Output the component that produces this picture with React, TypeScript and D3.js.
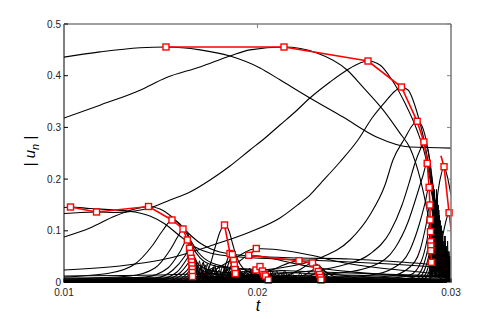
import React, { useEffect, useRef } from 'react';
import * as d3 from 'd3';

type P = [number, number];

const xTicks = [0.01, 0.02, 0.03];
const xTickLabels = ['0.01', '0.02', '0.03'];
const yTicks = [0, 0.1, 0.2, 0.3, 0.4, 0.5];
const yTickLabels = ['0', '0.1', '0.2', '0.3', '0.4', '0.5'];

// ---- mode amplitudes (black curves) : [t, |u_n|]
const modeA: P[] = [[0.01,0.436],[0.01186,0.446],[0.01393,0.454],[0.01527,0.4555],[0.01703,0.450],[0.01858,0.438],[0.02013,0.415],[0.02116,0.392],[0.02271,0.357],[0.02442,0.320],[0.02618,0.281],[0.02788,0.262],[0.03,0.260]];
const modeB: P[] = [[0.01,0.318],[0.01186,0.343],[0.01393,0.372],[0.01527,0.396],[0.01703,0.417],[0.01858,0.438],[0.01961,0.450],[0.02137,0.4555],[0.02307,0.444],[0.02463,0.411],[0.02545,0.378],[0.02649,0.334],[0.02736,0.289],[0.02788,0.260],[0.0284,0.202],[0.02881,0.131],[0.02912,0.0629],[0.02943,0.028],[0.03,0.016]];
const modeC: P[] = [[0.01,0.1335],[0.01083,0.1354],[0.01168,0.1364],[0.01264,0.1354],[0.01367,0.1383],[0.01444,0.1441],[0.01548,0.1596],[0.01651,0.1750],[0.01755,0.1983],[0.01858,0.2253],[0.01961,0.2563],[0.02039,0.2795],[0.02116,0.3046],[0.02194,0.3298],[0.02271,0.3569],[0.02375,0.3878],[0.02463,0.4110],[0.0253,0.4246],[0.02571,0.4284],[0.02633,0.4207],[0.02695,0.3917],[0.02762,0.3472],[0.02824,0.2950],[0.02866,0.2466],[0.02902,0.1789],[0.02933,0.1112],[0.02964,0.0629],[0.03,0.0474]];
const modeD: P[] = [[0.01,0.0880],[0.01134,0.1054],[0.01264,0.1286],[0.01367,0.1422],[0.01437,0.1470],[0.01496,0.1422],[0.01558,0.1267],[0.01625,0.1015],[0.01703,0.0764],[0.01806,0.0590],[0.01961,0.0513],[0.0222,0.0474],[0.02478,0.0455],[0.02736,0.0397],[0.03,0.0319]];
const modeE: P[] = [[0.01,0.0242],[0.01289,0.0319],[0.01548,0.0474],[0.0177,0.0725],[0.01961,0.0977],[0.02116,0.1248],[0.0222,0.1538],[0.02271,0.1692],[0.02323,0.1905],[0.02426,0.2331],[0.02519,0.2756],[0.02592,0.3182],[0.02659,0.3491],[0.02711,0.3704],[0.02742,0.3781],[0.02778,0.3724],[0.02824,0.3298],[0.02866,0.2659],[0.02902,0.1886],[0.02933,0.1170],[0.02964,0.0629],[0.03,0.0397]];
const modeF: P[] = [[0.01,0.0126],[0.01703,0.0164],[0.02116,0.0280],[0.02323,0.0474],[0.02478,0.0822],[0.02581,0.1306],[0.02659,0.1886],[0.027,0.2369],[0.02762,0.2795],[0.02798,0.3027],[0.02824,0.3124],[0.0285,0.3027],[0.02881,0.2563],[0.02912,0.1692],[0.02943,0.0861],[0.03,0.0339]];
const modeG: P[] = [[0.01,0.0087],[0.01806,0.0126],[0.0222,0.0203],[0.02426,0.0319],[0.02581,0.0551],[0.02685,0.0977],[0.02747,0.1499],[0.02788,0.1983],[0.02814,0.2311],[0.0284,0.2563],[0.0286,0.2718],[0.02881,0.2563],[0.02907,0.1886],[0.02938,0.1015],[0.02969,0.0474],[0.03,0.0280]];
const modeH: P[] = [[0.01,0.0068],[0.01961,0.0106],[0.02426,0.0184],[0.02607,0.0338],[0.02711,0.0667],[0.02778,0.1170],[0.02824,0.1692],[0.02856,0.2079],[0.02876,0.2311],[0.02891,0.2137],[0.02912,0.1499],[0.02943,0.0725],[0.03,0.0203]];
const modeI: P[] = [[0.01,0.0048],[0.0222,0.0087],[0.02581,0.0145],[0.02711,0.0300],[0.02788,0.0629],[0.02835,0.1112],[0.02866,0.1538],[0.02886,0.1847],[0.02902,0.1692],[0.02923,0.1112],[0.02954,0.0474],[0.03,0.0126]];
const modeJ: P[] = [[0.01,0.0039],[0.02375,0.0068],[0.02685,0.0126],[0.02788,0.0300],[0.0284,0.0629],[0.02871,0.1112],[0.02891,0.1499],[0.02907,0.1306],[0.02928,0.0822],[0.02959,0.0338],[0.03,0.0087]];
const modeK: P[] = [[0.01,0.0029],[0.02633,0.0068],[0.02788,0.0145],[0.02845,0.0397],[0.02876,0.0822],[0.02893,0.1209],[0.02907,0.1015],[0.02928,0.0590],[0.02959,0.0242],[0.03,0.0068]];
const modeL: P[] = [[0.01,0.0019],[0.02685,0.0048],[0.02814,0.0106],[0.0286,0.0358],[0.02881,0.0667],[0.02894,0.0977],[0.02907,0.0783],[0.02933,0.0397],[0.02969,0.0145],[0.03,0.0048]];
const modeM: P[] = [[0.01,0.0015],[0.02736,0.0039],[0.0283,0.0087],[0.02871,0.0319],[0.02886,0.0532],[0.02897,0.0783],[0.02912,0.0590],[0.02933,0.0280],[0.03,0.0039]];
const modeN: P[] = [[0.01,0.001],[0.02762,0.0029],[0.0285,0.0087],[0.02881,0.0280],[0.02897,0.0609],[0.02912,0.0397],[0.02943,0.0164],[0.03,0.0029]];
const modeO: P[] = [[0.01,0.0008],[0.02788,0.0019],[0.0286,0.0068],[0.02886,0.0203],[0.02898,0.0397],[0.02912,0.0242],[0.02943,0.0087],[0.03,0.002]];
const modeX1: P[] = [[0.02891,0.0822],[0.02923,0.1499],[0.02943,0.1983],[0.02964,0.2240],[0.02979,0.2079],[0.03,0.1692]];
const modeX2: P[] = [[0.02923,0.0338],[0.02948,0.0725],[0.02969,0.1112],[0.0299,0.1350],[0.03,0.1325]];
const modeQ: P[] = [[0.01,0.1450],[0.01034,0.146],[0.01134,0.1432],[0.01264,0.1402],[0.01367,0.1364],[0.01444,0.1286],[0.01522,0.1132],[0.01599,0.0899],[0.01677,0.0687],[0.01755,0.0571],[0.0191,0.0493],[0.02116,0.0455],[0.02375,0.0416],[0.02685,0.0358],[0.03,0.0280]];
const modeP1: P[] = [[0.01,0.0106],[0.01238,0.0184],[0.01367,0.0358],[0.01455,0.0706],[0.01512,0.1015],[0.01558,0.1209],[0.01599,0.1132],[0.01641,0.0899],[0.01692,0.0590],[0.01765,0.0377],[0.01884,0.0280],[0.02065,0.0242],[0.02323,0.0203],[0.02633,0.0164],[0.03,0.0126]];
const modeP2: P[] = [[0.01,0.0068],[0.01341,0.0126],[0.0147,0.0280],[0.01548,0.0629],[0.0159,0.0899],[0.01615,0.1035],[0.01636,0.0977],[0.01661,0.0725],[0.01703,0.0474],[0.0178,0.0319],[0.01961,0.0242],[0.02323,0.0164],[0.03,0.0106]];
const modeP3: P[] = [[0.01,0.0048],[0.01419,0.0106],[0.01537,0.0280],[0.01599,0.0590],[0.01637,0.0822],[0.01651,0.0745],[0.01672,0.0513],[0.01703,0.0319],[0.01806,0.0203],[0.0222,0.0126],[0.03,0.0068]];
const modeP4: P[] = [[0.01,0.0039],[0.0147,0.0087],[0.01563,0.0242],[0.01625,0.0513],[0.01649,0.0662],[0.01661,0.0590],[0.01682,0.0377],[0.01729,0.0203],[0.0191,0.0126],[0.03,0.0048]];
const modeP5: P[] = [[0.01,0.003],[0.01496,0.0068],[0.01584,0.0203],[0.01635,0.0455],[0.01654,0.0565],[0.01667,0.0474],[0.01687,0.0300],[0.01739,0.0164],[0.03,0.004]];
const modeP6: P[] = [[0.01,0.0025],[0.0152,0.006],[0.01599,0.0184],[0.01642,0.0377],[0.01658,0.0468],[0.0167,0.0377],[0.01692,0.0222],[0.0175,0.012],[0.03,0.003]];
const modeP7: P[] = [[0.0155,0.004],[0.0161,0.015],[0.01648,0.030],[0.0166,0.0397],[0.01672,0.031],[0.01697,0.018],[0.0176,0.009],[0.03,0.002]];
const modeP8: P[] = [[0.0157,0.003],[0.0162,0.012],[0.01652,0.025],[0.01662,0.0329],[0.01675,0.025],[0.017,0.014],[0.0177,0.007],[0.03,0.002]];
const modeP9: P[] = [[0.0159,0.003],[0.01628,0.010],[0.01655,0.019],[0.01663,0.0261],[0.01677,0.019],[0.01705,0.010],[0.0178,0.005],[0.03,0.0015]];
const modeP10: P[] = [[0.016,0.002],[0.01635,0.007],[0.01656,0.014],[0.01663,0.0193],[0.01678,0.013],[0.0171,0.007],[0.03,0.001]];
const modeP11: P[] = [[0.0161,0.002],[0.0164,0.005],[0.01658,0.009],[0.01664,0.0116],[0.0168,0.008],[0.0171,0.004],[0.03,0.001]];
const modeR1: P[] = [[0.01677,0.0048],[0.01729,0.0145],[0.01755,0.0338],[0.0178,0.0667],[0.01806,0.0977],[0.01829,0.1112],[0.01853,0.0996],[0.01873,0.0725],[0.01894,0.0474],[0.01925,0.0280],[0.01987,0.0164],[0.02168,0.0106],[0.03,0.0048]];
const modeR2: P[] = [[0.0178,0.004],[0.0182,0.018],[0.01845,0.045],[0.01858,0.0561],[0.0187,0.048],[0.0189,0.028],[0.0193,0.012],[0.03,0.003]];
const modeR3: P[] = [[0.0179,0.004],[0.0183,0.016],[0.01857,0.044],[0.0187,0.0542],[0.01882,0.045],[0.019,0.026],[0.0194,0.011],[0.03,0.003]];
const modeR4: P[] = [[0.018,0.003],[0.0184,0.012],[0.01865,0.034],[0.01876,0.0426],[0.01888,0.034],[0.01905,0.02],[0.0195,0.008],[0.03,0.002]];
const modeR5: P[] = [[0.0181,0.003],[0.0185,0.01],[0.0187,0.026],[0.0188,0.0338],[0.01892,0.026],[0.0191,0.015],[0.0196,0.006],[0.03,0.002]];
const modeR6: P[] = [[0.0182,0.002],[0.01855,0.008],[0.01873,0.019],[0.01883,0.0251],[0.01895,0.018],[0.01915,0.01],[0.03,0.001]];
const modeR7: P[] = [[0.0183,0.002],[0.0186,0.006],[0.01876,0.013],[0.01885,0.0174],[0.01898,0.012],[0.0192,0.006],[0.03,0.001]];
const modeS1: P[] = [[0.0178,0.0242],[0.01884,0.0474],[0.01994,0.0658],[0.02116,0.0629],[0.02271,0.0532],[0.02426,0.0397],[0.02633,0.0280],[0.0284,0.0203],[0.03,0.0126]];
const modeS2: P[] = [[0.0183,0.0203],[0.0191,0.042],[0.01955,0.0526],[0.0203,0.05],[0.0215,0.04],[0.0228,0.03],[0.025,0.02],[0.03,0.01]];
const modeS3: P[] = [[0.0198,0.01],[0.0208,0.025],[0.0215,0.036],[0.02214,0.0422],[0.0226,0.038],[0.0232,0.026],[0.024,0.015],[0.03,0.006]];
const modeS4: P[] = [[0.0212,0.008],[0.0222,0.025],[0.02284,0.0377],[0.0232,0.032],[0.0236,0.018],[0.0245,0.008],[0.03,0.003]];
const modeS5: P[] = [[0.0218,0.005],[0.0226,0.018],[0.02305,0.0275],[0.02335,0.02],[0.0238,0.01],[0.03,0.002]];
const modeS6: P[] = [[0.0222,0.004],[0.0228,0.014],[0.02314,0.0213],[0.0234,0.015],[0.0239,0.007],[0.03,0.002]];
const modeS7: P[] = [[0.0224,0.003],[0.0229,0.009],[0.0232,0.0155],[0.02345,0.01],[0.024,0.005],[0.03,0.001]];
const modeS8: P[] = [[0.0226,0.002],[0.0230,0.006],[0.02326,0.0097],[0.0235,0.006],[0.03,0.001]];
const modeT1: P[] = [[0.0193,0.005],[0.0197,0.018],[0.01992,0.0242],[0.0201,0.018],[0.0205,0.006],[0.03,0.002]];
const modeT2: P[] = [[0.0195,0.006],[0.0199,0.024],[0.02013,0.0309],[0.0203,0.024],[0.0207,0.008],[0.03,0.002]];
const modeT3: P[] = [[0.0198,0.005],[0.0201,0.016],[0.02026,0.0222],[0.0204,0.016],[0.0208,0.005],[0.03,0.001]];
const modeT4: P[] = [[0.02,0.004],[0.0202,0.01],[0.02034,0.0155],[0.0205,0.01],[0.0209,0.004],[0.03,0.001]];
const modeT5: P[] = [[0.0201,0.003],[0.0203,0.008],[0.02041,0.0126],[0.0206,0.008],[0.021,0.003]];

const smoothModes = [modeA, modeB, modeC, modeD, modeE, modeF, modeG, modeH, modeI, modeJ, modeK, modeL, modeM, modeN, modeO, modeX1, modeX2, modeQ,
  modeP1, modeP2, modeP3, modeP4, modeP5, modeP6, modeP7, modeP8, modeP9, modeP10, modeP11,
  modeR1, modeR2, modeR3, modeR4, modeR5, modeR6, modeR7,
  modeS1, modeS2, modeS3, modeS4, modeS5, modeS6, modeS7, modeS8,
  modeT1, modeT2, modeT3, modeT4, modeT5];

// ---- high modes (oscillating, drawn straight)
const gridA = [0.0166,0.0168,0.0170,0.0172,0.0174,0.0176,0.0178,0.0180,0.0182,0.0184,0.0186,0.0188,0.0190,0.0192,0.0194,0.0196,0.0198,0.0200,0.0202,0.0204,0.0206,0.0208,0.0210,0.0212,0.0214,0.0216,0.0218,0.0220,0.0222,0.0224,0.0226,0.0228,0.0230,0.0232,0.0234,0.0236];
const hiA1 = [0.050,0.012,0.042,0.008,0.036,0.015,0.030,0.006,0.034,0.012,0.028,0.005,0.032,0.010,0.026,0.004,0.030,0.008,0.024,0.005,0.026,0.009,0.022,0.004,0.024,0.008,0.018,0.003,0.020,0.006,0.014,0.003,0.012,0.004,0.008,0.002];
const hiA2 = [0.010,0.046,0.006,0.038,0.010,0.028,0.020,0.032,0.004,0.026,0.016,0.030,0.006,0.022,0.018,0.028,0.004,0.024,0.014,0.020,0.003,0.022,0.012,0.018,0.003,0.016,0.010,0.014,0.002,0.012,0.008,0.010,0.002,0.008,0.004,0.003];
const hiA3 = [0.030,0.004,0.024,0.040,0.006,0.020,0.034,0.002,0.018,0.030,0.008,0.016,0.026,0.003,0.020,0.022,0.006,0.014,0.020,0.002,0.016,0.018,0.004,0.012,0.016,0.002,0.010,0.012,0.004,0.008,0.010,0.002,0.006,0.006,0.001,0.004];
const hiA4 = [0.020,0.032,0.016,0.004,0.026,0.010,0.004,0.024,0.012,0.002,0.022,0.008,0.003,0.020,0.006,0.012,0.018,0.002,0.010,0.016,0.004,0.008,0.014,0.002,0.006,0.012,0.003,0.005,0.010,0.002,0.004,0.007,0.002,0.003,0.005,0.001];
const gridB = [0.0167,0.0169,0.0171,0.0173,0.0175,0.0177,0.0179,0.0181,0.0183,0.0185,0.0187,0.0189,0.0191,0.0193,0.0195,0.0197,0.0199,0.0201,0.0203,0.0205,0.0207,0.0209,0.0211,0.0213,0.0215,0.0217,0.0219,0.0221,0.0223,0.0225,0.0227,0.0229,0.0231,0.0233,0.0235];
const hiB1 = [0.038,0.014,0.030,0.006,0.026,0.012,0.022,0.004,0.028,0.010,0.020,0.004,0.024,0.008,0.018,0.003,0.022,0.006,0.016,0.004,0.018,0.006,0.014,0.002,0.016,0.005,0.012,0.002,0.010,0.004,0.008,0.002,0.006,0.003,0.004];
const hiB2 = [0.006,0.026,0.010,0.034,0.004,0.022,0.014,0.004,0.024,0.016,0.002,0.020,0.012,0.004,0.018,0.010,0.003,0.016,0.008,0.002,0.014,0.007,0.002,0.012,0.006,0.002,0.010,0.005,0.002,0.008,0.004,0.001,0.005,0.002,0.003];
const hiB3 = [0.016,0.002,0.020,0.016,0.002,0.030,0.008,0.018,0.002,0.014,0.024,0.002,0.012,0.018,0.002,0.014,0.012,0.002,0.012,0.010,0.002,0.010,0.008,0.002,0.008,0.007,0.001,0.006,0.006,0.001,0.005,0.004,0.001,0.003,0.002];
const gridC = [0.02890,0.02895,0.02900,0.02905,0.02910,0.02915,0.02920,0.02925,0.02930,0.02935,0.02940,0.02945,0.02950,0.02955,0.02960,0.02965,0.02970,0.02975,0.02980,0.02985,0.02990,0.02995,0.03000];
const hiC1 = [0.010,0.080,0.020,0.150,0.030,0.180,0.050,0.160,0.020,0.120,0.040,0.100,0.020,0.080,0.030,0.090,0.010,0.070,0.030,0.060,0.020,0.050,0.030];
const hiC2 = [0.030,0.020,0.120,0.010,0.170,0.020,0.140,0.030,0.130,0.010,0.110,0.020,0.090,0.010,0.070,0.020,0.080,0.010,0.050,0.020,0.060,0.010,0.040];
const hiC3 = [0.000,0.050,0.010,0.100,0.020,0.130,0.010,0.180,0.020,0.150,0.010,0.120,0.030,0.100,0.010,0.060,0.020,0.070,0.010,0.050,0.010,0.040,0.020];
const hiC4 = [0.020,0.010,0.070,0.020,0.110,0.030,0.160,0.010,0.170,0.020,0.130,0.010,0.110,0.020,0.080,0.010,0.090,0.020,0.060,0.010,0.040,0.020,0.030];
const gridD = [0.028925,0.028975,0.029025,0.029075,0.029125,0.029175,0.029225,0.029275,0.029325,0.029375,0.029425,0.029475,0.029525,0.029575,0.029625,0.029675,0.029725,0.029775,0.029825,0.029875,0.029925,0.029975];
const hiD1 = [0.040,0.010,0.120,0.020,0.160,0.010,0.140,0.040,0.110,0.010,0.090,0.030,0.100,0.010,0.070,0.020,0.060,0.010,0.080,0.010,0.040,0.020];
const hiD2 = [0.005,0.060,0.030,0.090,0.010,0.150,0.020,0.120,0.010,0.140,0.020,0.080,0.010,0.060,0.020,0.050,0.010,0.060,0.020,0.030,0.010,0.030];

const hiModes: [number[], number[]][] = [
  [gridA, hiA1], [gridA, hiA2], [gridA, hiA3], [gridA, hiA4],
  [gridB, hiB1], [gridB, hiB2], [gridB, hiB3],
  [gridC, hiC1], [gridC, hiC2], [gridC, hiC3], [gridC, hiC4],
  [gridD, hiD1], [gridD, hiD2],
];

// ---- maxima traces (red with square markers)
const ridgeTop: P[] = [[0.01527,0.4555],[0.02137,0.4555],[0.02571,0.4284],[0.02744,0.3781],[0.02825,0.3118],[0.0286,0.2718],[0.02877,0.2305],[0.02887,0.1841],[0.02891,0.1499],[0.02892,0.1210],[0.02894,0.0983],[0.02895,0.0789],[0.02896,0.0706],[0.02896,0.0615],[0.02898,0.0390]];
const ridgeLeft: P[] = [[0.010336,0.146],[0.01168,0.1364],[0.014367,0.147],[0.015581,0.1209],[0.01615,0.1035],[0.016372,0.0822],[0.016486,0.0662],[0.016537,0.0565],[0.016579,0.0468],[0.016599,0.0397],[0.016615,0.0329],[0.01663,0.0261],[0.01663,0.0193],[0.016641,0.0116]];
const ridgeMid: P[] = [[0.018295,0.1112],[0.018579,0.0561],[0.018698,0.0542],[0.01876,0.0426],[0.018801,0.0338],[0.018827,0.0251],[0.018853,0.0174]];
const ridgeLow: P[] = [[0.019938,0.0658],[0.019545,0.0526],[0.022145,0.0422],[0.022842,0.0377],[0.023049,0.0275],[0.023142,0.0213],[0.023204,0.0155],[0.023256,0.0097],[0.023282,0.0048]];
const ridgeCluster: P[] = [[0.019922,0.0242],[0.020129,0.0309],[0.020258,0.0222],[0.020336,0.0155],[0.020413,0.0126],[0.020558,0.0048]];
const ridgeRight: P[] = [[0.02964,0.2239],[0.0299,0.1349]];
const ridgeRightLine: P[] = [[0.02948,0.245],[0.02964,0.2239],[0.0299,0.1349],[0.03006,0.085]];

const ridgesMarked = [ridgeTop, ridgeLeft, ridgeMid, ridgeLow, ridgeCluster, ridgeRight];

export default function App() {
  const ref = useRef<SVGSVGElement>(null);
  useEffect(() => {
    const svg = d3.select(ref.current);
    svg.selectAll('*').remove();
    const L = 64, R = 451, T = 24, B = 282.5;
    const x = d3.scaleLinear().domain([0.01, 0.03]).range([L, R]);
    const y = d3.scaleLinear().domain([0, 0.5]).range([B, T]);

    svg.append('rect').attr('width', 498).attr('height', 319).attr('fill', '#fff');
    svg.append('defs').append('clipPath').attr('id', 'pc')
      .append('rect').attr('x', L).attr('y', T).attr('width', R - L).attr('height', B - T);

    const g = svg.append('g').attr('clip-path', 'url(#pc)');
    const smooth = d3.line<P>().x(d => x(d[0])).y(d => y(d[1])).curve(d3.curveMonotoneX);
    const straight = d3.line<P>().x(d => x(d[0])).y(d => y(d[1]));

    hiModes.forEach(([tt, vv]) => {
      const pts: P[] = tt.map((t, i) => [t, vv[i]]);
      g.append('path').attr('d', straight(pts)!).attr('fill', 'none')
        .attr('stroke', '#000').attr('stroke-width', 0.9);
    });
    smoothModes.forEach(m => {
      g.append('path').attr('d', smooth(m)!).attr('fill', 'none')
        .attr('stroke', '#000').attr('stroke-width', 1.1);
    });

    const red = '#ff0000';
    const gr = svg.append('g');
    [...ridgesMarked.slice(0, 5), ridgeRightLine].forEach(r => {
      gr.append('path').attr('d', straight(r)!).attr('fill', 'none')
        .attr('stroke', red).attr('stroke-width', 1.6).attr('clip-path', 'url(#pc)');
    });
    ridgesMarked.forEach(r => {
      r.forEach(p => {
        gr.append('rect').attr('x', x(p[0]) - 3).attr('y', y(p[1]) - 3)
          .attr('width', 6).attr('height', 6).attr('fill', '#fff')
          .attr('stroke', red).attr('stroke-width', 1.4);
      });
    });

    // frame
    const ax = svg.append('g');
    ax.append('line').attr('x1', L).attr('x2', R).attr('y1', T).attr('y2', T).attr('stroke', '#808080').attr('stroke-width', 1.6);
    ax.append('line').attr('x1', R).attr('x2', R).attr('y1', T).attr('y2', B).attr('stroke', '#808080').attr('stroke-width', 1.6);
    ax.append('line').attr('x1', L).attr('x2', R).attr('y1', B).attr('y2', B).attr('stroke', '#000').attr('stroke-width', 1);
    ax.append('line').attr('x1', L).attr('x2', L).attr('y1', T).attr('y2', B).attr('stroke', '#000').attr('stroke-width', 1);

    const font = 'Liberation Sans, Arial, Helvetica, sans-serif';
    yTicks.forEach((v, i) => {
      const yy = y(v);
      ax.append('line').attr('x1', L).attr('x2', L + 4).attr('y1', yy).attr('y2', yy).attr('stroke', '#000');
      ax.append('line').attr('x1', R - 4).attr('x2', R).attr('y1', yy).attr('y2', yy).attr('stroke', '#808080');
      ax.append('text').attr('x', L - 3).attr('y', yy + 3.6).attr('text-anchor', 'end')
        .attr('font-family', font).attr('font-size', 10).attr('fill', '#222').text(yTickLabels[i]);
    });
    xTicks.forEach((v, i) => {
      const xx = x(v);
      ax.append('line').attr('x1', xx).attr('x2', xx).attr('y1', B).attr('y2', B - 4).attr('stroke', '#000');
      ax.append('line').attr('x1', xx).attr('x2', xx).attr('y1', T).attr('y2', T + 4).attr('stroke', '#808080');
      ax.append('text').attr('x', xx).attr('y', 296).attr('text-anchor', 'middle')
        .attr('font-family', font).attr('font-size', 10).attr('fill', '#222').text(xTickLabels[i]);
    });

    ax.append('text').attr('x', 258).attr('y', 311).attr('text-anchor', 'middle')
      .attr('font-family', font).attr('font-size', 16).attr('font-style', 'italic').text('t');

    const yl = ax.append('text').attr('transform', 'translate(35,151) rotate(-90)')
      .attr('text-anchor', 'middle').attr('font-family', font).attr('font-size', 15);
    yl.append('tspan').text('| ');
    yl.append('tspan').attr('font-style', 'italic').text('u');
    yl.append('tspan').attr('font-style', 'italic').attr('font-size', 11).attr('dy', 4).text('n');
    yl.append('tspan').attr('dy', -4).text(' |');
  }, []);
  return <svg ref={ref} width={498} height={319} style={{ position: 'absolute', left: 0, top: 0 }} />;
}
